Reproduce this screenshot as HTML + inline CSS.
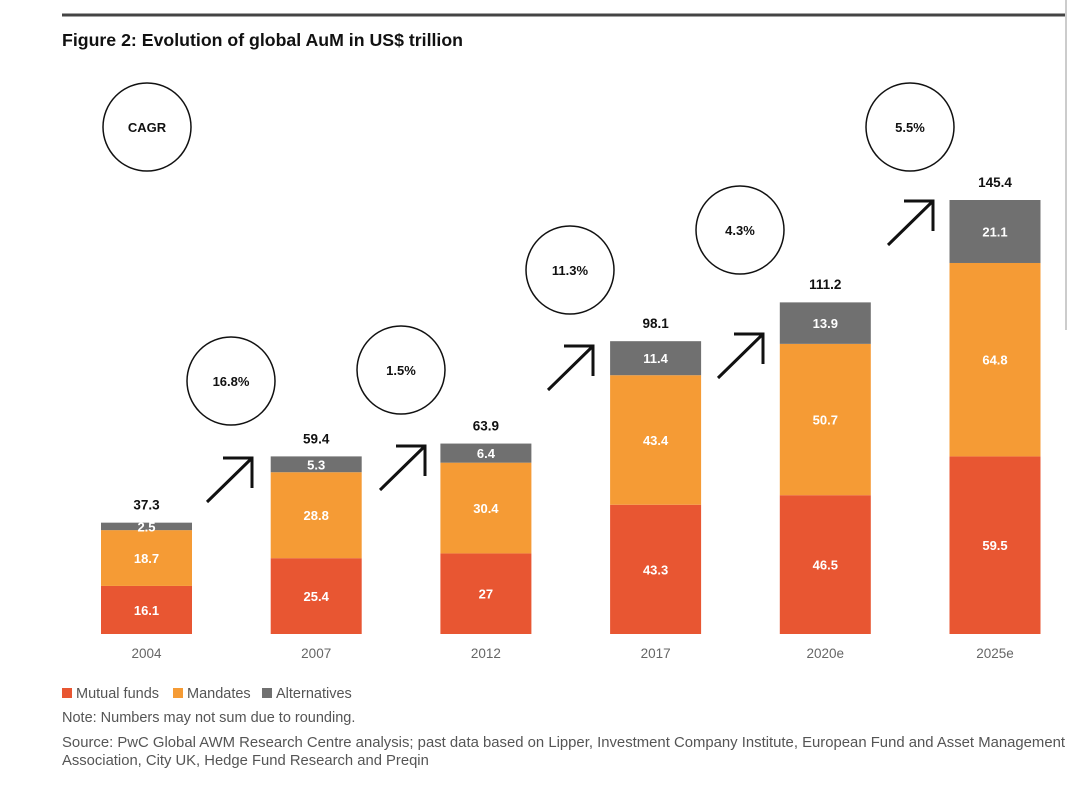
<!DOCTYPE html>
<html><head><meta charset="utf-8"><style>
body{margin:0;background:#fff;width:1080px;height:801px;overflow:hidden;font-family:"Liberation Sans",Arial,sans-serif}
</style></head><body>
<svg width="1080" height="801" style="position:absolute;left:0;top:0">
<line x1="62" y1="15" x2="1066" y2="15" stroke="#444" stroke-width="3"/>
<line x1="1066" y1="0" x2="1066" y2="330" stroke="#ccc" stroke-width="2"/>
<text x="62" y="46" font-size="17.5" font-weight="bold" fill="#111" textLength="401" lengthAdjust="spacingAndGlyphs">Figure 2: Evolution of global AuM in US$ trillion</text>
<g id="bars"></g>
<g id="cagr"></g>
<g font-size="14.5" fill="#555">
<rect x="62" y="688" width="10" height="10" fill="#e85632"/>
<text x="76" y="698">Mutual funds</text>
<rect x="173" y="688" width="10" height="10" fill="#f59b35"/>
<text x="187" y="698">Mandates</text>
<rect x="262" y="688" width="10" height="10" fill="#707070"/>
<text x="276" y="698">Alternatives</text>
</g>
<text x="62" y="722" font-size="14.5" fill="#555">Note: Numbers may not sum due to rounding.</text>
<text x="62" y="747" font-size="14.8" fill="#555" textLength="1003" lengthAdjust="spacingAndGlyphs">Source: PwC Global AWM Research Centre analysis; past data based on Lipper, Investment Company Institute, European Fund and Asset Management</text>
<text x="62" y="765" font-size="14.8" fill="#555">Association, City UK, Hedge Fund Research and Preqin</text>
</svg>
<script>
const categories=["2004","2007","2012","2017","2020e","2025e"];
const mutualFunds=[16.1,25.4,27,43.3,46.5,59.5];
const mandates=[18.7,28.8,30.4,43.4,50.7,64.8];
const alternatives=[2.5,5.3,6.4,11.4,13.9,21.1];
const totals=[37.3,59.4,63.9,98.1,111.2,145.4];
const cagrLabels=["CAGR","16.8%","1.5%","11.3%","4.3%","5.5%"];
const cagrCenters=[[147,127],[231,381],[401,370],[570,270],[740,230],[910,127]];
const NS="http://www.w3.org/2000/svg";
const base=634, scale=(634-200)/145.4, bw=91;
const xPos=i=>101+i*169.7;
const yPx=v=>base-v*scale;
const g=document.getElementById('bars');
function mk(t,a,p){const e=document.createElementNS(NS,t);for(const k in a)e.setAttribute(k,a[k]);(p||g).appendChild(e);return e;}
categories.forEach((c,i)=>{
  const x=xPos(i);
  const segs=[[mutualFunds[i],'#e85632','mutual-funds'],[mandates[i],'#f59b35','mandates'],[alternatives[i],'#707070','alternatives']];
  let cum=0;
  const grp=mk('g',{});
  
  
  segs.forEach(s=>{
    const y0=yPx(cum), y1=yPx(cum+s[0]); cum+=s[0];
    const r=mk('rect',{x:x,y:y1,width:bw,height:y0-y1,fill:s[1]},grp);
    
    
    const t=mk('text',{x:x+bw/2,y:(y0+y1)/2+5,'text-anchor':'middle','font-size':13,'font-weight':'bold',fill:'#fff'},grp);
    t.textContent=String(s[0]);
    
    
  });
  const tt=mk('text',{x:x+bw/2,y:yPx(totals[i])-13,'text-anchor':'middle','font-size':13.5,'font-weight':'bold',fill:'#111'},grp);
  tt.textContent=String(totals[i]);
  
  
  const xl=mk('text',{x:x+bw/2,y:658,'text-anchor':'middle','font-size':13.5,fill:'#666'},grp);
  xl.textContent=c;
  
  
});
const cg=document.getElementById('cagr');
cagrLabels.forEach((l,i)=>{
  const [cx,cy]=cagrCenters[i];
  const ci=mk('circle',{cx:cx,cy:cy,r:44,fill:'none',stroke:'#111','stroke-width':1.5},cg);
  
  
  const t=mk('text',{x:cx,y:cy+5,'text-anchor':'middle','font-size':13,'font-weight':'bold',fill:'#111'},cg);
  t.textContent=l;
  
  
});
const arrows=[[207,502],[380,490],[548,390],[718,378],[888,245]];
arrows.forEach((a,i)=>{
  const [x,y]=a, x2=x+45, y2=y-44;
  const p=mk('path',{d:`M${x} ${y}L${x2} ${y2}M${x2-29} ${y2}H${x2}V${y2+30}`,fill:'none',stroke:'#111','stroke-width':3},cg);
  
  
});
</script>
</body></html>
